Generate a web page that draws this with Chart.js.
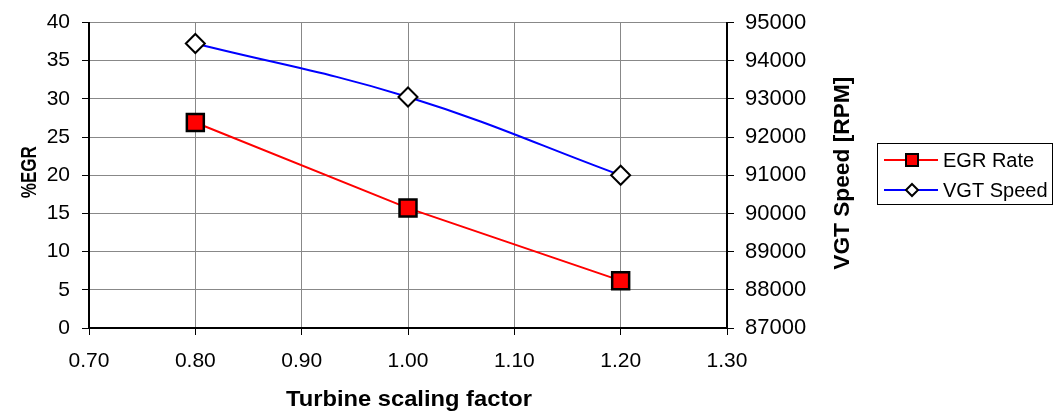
<!DOCTYPE html>
<html>
<head>
<meta charset="utf-8">
<script src="https://cdn.jsdelivr.net/npm/chart.js@4/dist/chart.umd.min.js"></script>
<style>
  html, body { margin: 0; padding: 0; background: #fff; }
  #wrap { width: 1053px; height: 412px; }
</style>
</head>
<body>
<div id="wrap"><canvas id="chart" width="1053" height="412"></canvas></div>
<script>
// Données
const scalingFactors = [0.8, 1.0, 1.2];
const egrRate = [26.9, 15.7, 6.2];
const vgtSpeed = [94450, 93050, 91000];
const seriesLabels = ['EGR Rate', 'VGT Speed'];
const axisTitles = { x: 'Turbine scaling factor', y: '%EGR', y1: 'VGT Speed [RPM]' };

const FONT = "'Liberation Sans', Arial, sans-serif";

// texte étiré/compressé pour coller à la largeur voulue
function drawFitted(ctx, text, x, y, rotation, fontSize, targetWidth) {
    ctx.save();
    ctx.font = 'bold ' + fontSize + 'px ' + FONT;
    ctx.fillStyle = '#000';
    ctx.textAlign = 'center';
    ctx.textBaseline = 'alphabetic';
    ctx.translate(x, y);
    ctx.rotate(rotation);
    const w = ctx.measureText(text).width;
    ctx.scale(targetWidth / w, 1);
    ctx.fillText(text, 0, 0);
    ctx.restore();
}

// Titres des axes + légende avec trait et marqueur
const extrasPlugin = {
    id: 'extras',
    afterDraw(chart) {
        const ctx = chart.ctx;
        const area = chart.chartArea;
        const midY = (area.top + area.bottom) / 2;
        drawFitted(ctx, axisTitles.x, 409, 406, 0, 22, 246);
        drawFitted(ctx, axisTitles.y, 36, midY - 3, -Math.PI / 2, 22, 52);
        drawFitted(ctx, axisTitles.y1, 849, midY - 2, -Math.PI / 2, 22, 193);

        // légende
        ctx.save();
        ctx.strokeStyle = '#000';
        ctx.lineWidth = 1;
        ctx.strokeRect(877.5, 143.5, 175, 61);
        const rows = [160, 190];
        chart.data.datasets.forEach((ds, i) => {
            const y = rows[i];
            ctx.strokeStyle = ds.borderColor;
            ctx.lineWidth = 2;
            ctx.beginPath();
            ctx.moveTo(884, y);
            ctx.lineTo(938, y);
            ctx.stroke();
            ctx.fillStyle = ds.pointBackgroundColor;
            ctx.strokeStyle = '#000';
            ctx.lineWidth = 2;
            ctx.beginPath();
            if (ds.pointStyle === 'rect') {
                ctx.rect(906, y - 6, 12, 12);
            } else {
                ctx.moveTo(912, y - 6);
                ctx.lineTo(918, y);
                ctx.lineTo(912, y + 6);
                ctx.lineTo(906, y);
                ctx.closePath();
            }
            ctx.fill();
            ctx.stroke();
            ctx.fillStyle = '#000';
            ctx.font = '20px ' + FONT;
            ctx.textAlign = 'left';
            ctx.textBaseline = 'middle';
            ctx.fillText(ds.label, 943, y + 1);
        });
        ctx.restore();
    }
};

new Chart(document.getElementById('chart'), {
    type: 'line',
    data: {
        datasets: [
            {
                label: seriesLabels[0],
                data: scalingFactors.map((x, i) => ({ x: x, y: egrRate[i] })),
                yAxisID: 'y',
                borderColor: '#ff0000',
                borderWidth: 2,
                tension: 0,
                pointStyle: 'rect',
                pointRadius: 12,
                pointBackgroundColor: '#ff0000',
                pointBorderColor: '#000',
                pointBorderWidth: 2.5
            },
            {
                label: seriesLabels[1],
                data: scalingFactors.map((x, i) => ({ x: x, y: vgtSpeed[i] })),
                yAxisID: 'y1',
                borderColor: '#0000ff',
                borderWidth: 2,
                tension: 0.4,
                pointStyle: 'rectRot',
                pointRadius: 9.5,
                pointBackgroundColor: '#ffffff',
                pointBorderColor: '#000',
                pointBorderWidth: 2
            }
        ]
    },
    options: {
        responsive: false,
        animation: false,
        layout: { padding: { top: 20, left: 0, right: 196, bottom: 0 } },
        plugins: {
            legend: { display: false },
            tooltip: { enabled: false }
        },
        scales: {
            x: {
                type: 'linear',
                min: 0.7,
                max: 1.3,
                afterFit: (s) => { s.height = 84; },
                ticks: {
                    stepSize: 0.1,
                    padding: 14,
                    color: '#000',
                    font: { size: 21, family: FONT },
                    callback: (v) => v.toFixed(2)
                },
                grid: { color: '#888', lineWidth: 1, tickLength: 7, tickColor: '#000' },
                border: { color: '#000', width: 2 }
            },
            y: {
                position: 'left',
                min: 0,
                max: 40,
                afterFit: (s) => { s.width = 89; },
                ticks: {
                    stepSize: 5,
                    padding: 12,
                    color: '#000',
                    font: { size: 21, family: FONT, lineHeight: 1 }
                },
                grid: { color: '#888', lineWidth: 1, tickLength: 7, tickColor: '#000' },
                border: { color: '#000', width: 2 }
            },
            y1: {
                position: 'right',
                min: 87000,
                max: 95000,
                afterFit: (s) => { s.width = 130; },
                ticks: {
                    stepSize: 1000,
                    padding: 11,
                    color: '#000',
                    font: { size: 22, family: FONT, lineHeight: 1 },
                    callback: (v) => String(v)
                },
                grid: { drawOnChartArea: false, tickLength: 7, tickColor: '#000' },
                border: { color: '#000', width: 2 }
            }
        }
    },
    plugins: [extrasPlugin]
});
</script>
</body>
</html>
